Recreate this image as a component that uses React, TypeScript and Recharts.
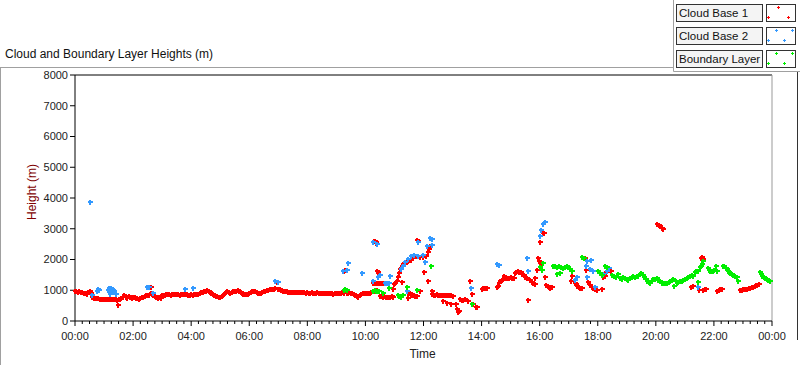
import React from 'react';
import { ScatterChart, Scatter, XAxis, YAxis, ReferenceLine, Legend } from 'recharts';

type Pt = [number, number];

// [hour of day, height m]
const cloudBase1Morning: Pt[] = [
  [0.0, 960], [0.05, 975], [0.1, 950], [0.15, 965], [0.2, 940], [0.25, 955], [0.3, 920], [0.35, 900], [0.4, 870], [0.45, 930],
  [0.5, 990], [0.55, 900], [0.6, 780], [0.65, 760], [0.7, 750], [0.75, 745], [0.8, 740], [0.85, 730], [0.9, 725], [0.95, 720],
  [1.0, 715], [1.05, 710], [1.1, 712], [1.15, 705], [1.2, 708], [1.25, 702], [1.3, 700], [1.35, 705], [1.4, 700], [1.45, 690],
  [1.47, 510], [1.5, 700], [1.55, 720], [1.6, 740], [1.65, 780], [1.7, 830], [1.75, 790], [1.8, 760], [1.85, 800], [1.9, 780],
  [1.95, 760], [2.0, 790], [2.05, 770], [2.1, 740], [2.15, 760], [2.2, 730], [2.25, 760], [2.3, 770], [2.35, 790], [2.4, 800],
  [2.45, 830], [2.5, 840], [2.55, 860], [2.6, 900], [2.62, 1100], [2.65, 880], [2.7, 850], [2.75, 820], [2.8, 790], [2.85, 760],
  [2.9, 780], [2.95, 750], [3.0, 830], [3.05, 860], [3.1, 850], [3.15, 880], [3.2, 870], [3.25, 890], [3.3, 860], [3.35, 870],
  [3.4, 880], [3.45, 870], [3.5, 870], [3.55, 880], [3.6, 860], [3.65, 870], [3.7, 875], [3.75, 880], [3.8, 865], [3.85, 870],
  [3.9, 860], [3.95, 855], [4.0, 870], [4.05, 860], [4.1, 880], [4.15, 870], [4.2, 885], [4.25, 880], [4.3, 900], [4.35, 930],
  [4.4, 950], [4.45, 980], [4.5, 990], [4.55, 1010], [4.6, 980], [4.65, 950], [4.7, 920], [4.75, 880], [4.8, 850], [4.85, 820],
  [4.9, 800], [4.95, 780], [5.0, 790], [5.05, 820], [5.1, 860], [5.15, 900], [5.2, 940], [5.25, 960], [5.3, 930], [5.35, 920],
  [5.4, 950], [5.45, 970], [5.5, 980], [5.55, 990], [5.6, 1010], [5.65, 990], [5.7, 950], [5.75, 920], [5.8, 890], [5.85, 880],
  [5.9, 870], [5.95, 880], [6.0, 900], [6.05, 930], [6.1, 960], [6.15, 980], [6.2, 960], [6.25, 930], [6.3, 910], [6.35, 900],
  [6.4, 910], [6.45, 930], [6.5, 960], [6.55, 990], [6.6, 1000], [6.65, 1010], [6.7, 1030], [6.75, 1040], [6.8, 1050], [6.85, 1055],
  [6.9, 1060], [6.95, 1270], [7.0, 1055], [7.05, 1040], [7.1, 1010], [7.15, 990], [7.2, 980], [7.25, 970], [7.3, 960], [7.35, 955],
  [7.4, 950], [7.45, 955], [7.5, 950], [7.55, 945], [7.6, 950], [7.65, 955], [7.7, 950], [7.75, 945], [7.8, 950], [7.85, 940],
  [7.9, 930], [7.95, 925], [8.0, 930], [8.05, 920], [8.1, 925], [8.15, 930], [8.2, 920], [8.25, 915], [8.3, 925], [8.35, 930],
  [8.4, 920], [8.45, 910], [8.5, 920], [8.55, 925], [8.6, 915], [8.65, 910], [8.7, 920], [8.75, 905], [8.8, 895], [8.85, 900],
  [8.9, 890], [8.95, 910], [9.0, 920], [9.05, 925], [9.1, 915], [9.15, 920], [9.2, 930], [9.25, 925], [9.26, 1640], [9.3, 1660],
  [9.35, 925], [9.4, 915], [9.45, 930], [9.5, 920], [9.55, 900], [9.6, 880], [9.65, 840], [9.7, 800], [9.75, 790], [9.8, 830],
  [9.85, 880], [9.9, 900], [9.95, 910], [10.0, 920], [10.05, 915], [10.1, 920], [10.15, 925], [10.2, 940],
];

const cloudBase1Midday: Pt[] = [
  [10.25, 960], [10.3, 980], [10.35, 990], [10.4, 1000], [10.45, 990],
  [10.28, 2610], [10.32, 2590], [10.35, 2560], [10.38, 2530], [10.4, 1640], [10.44, 1600],
  [10.25, 1230], [10.3, 1240], [10.35, 1235], [10.4, 1240], [10.45, 1245], [10.5, 1240], [10.55, 1235], [10.6, 1240], [10.65, 1245],
  [10.5, 820], [10.55, 800], [10.6, 790], [10.65, 800], [10.7, 790], [10.75, 780], [10.8, 790], [10.85, 780], [10.9, 800], [10.95, 780],
  [10.96, 1035], [10.98, 1200], [11.03, 1250], [11.08, 1307], [11.13, 1415], [11.16, 1560], [11.19, 1700], [11.25, 1800], [11.3, 1850],
  [11.36, 1905], [11.42, 1930], [11.48, 1960], [11.56, 2000], [11.65, 2050], [11.72, 2100], [11.77, 2125], [11.88, 2090], [11.99, 2070],
  [12.09, 2125], [12.17, 2230], [12.2, 2350], [12.22, 2450],
  [11.25, 1260], [11.77, 2640], [11.8, 2610], [12.02, 1580], [12.16, 1310],
  [11.47, 920], [11.52, 900], [11.57, 880], [11.62, 850], [11.67, 830], [11.72, 820], [11.77, 815], [11.47, 750], [11.88, 960],
  [12.28, 960], [12.28, 880], [12.32, 870], [12.36, 860], [12.4, 860], [12.45, 865], [12.5, 860], [12.55, 855], [12.6, 860],
  [12.65, 860], [12.7, 855], [12.75, 850], [12.8, 860], [12.85, 855], [12.9, 850], [12.95, 830], [13.0, 820],
  [12.67, 650], [12.82, 600], [12.95, 565], [13.12, 545], [13.17, 390], [13.2, 300], [13.22, 340],
  [13.27, 700], [13.32, 690], [13.37, 690], [13.42, 700], [13.6, 1310], [13.66, 890], [13.53, 650], [13.7, 545], [13.8, 460], [13.85, 460],
  [14.0, 1040], [14.05, 1060], [14.1, 1070], [14.15, 1065], [14.2, 1075],
];

const cloudBase1Afternoon: Pt[] = [
  [14.52, 1090], [14.55, 1145], [14.6, 1220], [14.65, 1285], [14.7, 1330], [14.75, 1370], [14.8, 1390], [14.85, 1400], [14.9, 1410],
  [14.95, 1400], [15.0, 1420], [15.05, 1410], [15.1, 1400], [14.78, 1470], [15.15, 1560], [15.2, 1600], [15.25, 1610], [15.3, 1600],
  [15.35, 1590], [15.4, 1540], [15.45, 1480], [15.5, 1420], [15.55, 1390], [15.61, 675], [15.68, 1330], [15.73, 1280], [15.78, 1240],
  [15.84, 1200], [15.84, 1395], [15.9, 1665], [15.93, 2040], [15.98, 1940], [16.03, 1850], [16.01, 2580], [16.1, 2865], [16.15, 2865],
  [16.18, 1440], [16.22, 1170], [16.27, 1130], [16.32, 1090], [16.37, 1070], [16.42, 1100],
  [17.08, 1285], [17.11, 1450], [17.2, 1240], [17.25, 1200], [17.3, 1150], [17.35, 1100], [17.4, 1080], [17.45, 1060],
  [17.56, 2050], [17.6, 1655], [17.68, 1275], [17.74, 1160], [17.8, 1100], [17.85, 1060], [17.9, 1030], [17.96, 1010],
  [18.14, 1035], [18.18, 1440], [18.25, 1470], [18.28, 1600], [18.38, 1660], [18.44, 1640],
  [20.05, 3160], [20.1, 3120], [20.15, 3080], [20.2, 3030], [20.25, 3000],
  [21.22, 1120], [21.27, 1125], [21.49, 1000], [21.56, 2050], [21.6, 2080], [21.62, 2010], [21.63, 1010], [21.68, 1030], [21.73, 1040],
  [22.12, 980], [22.17, 1000], [22.22, 1030], [22.27, 1045],
  [22.9, 1010], [22.95, 1020], [23.0, 1030], [23.05, 1030], [23.1, 1040], [23.15, 1050], [23.2, 1060], [23.25, 1070], [23.3, 1100],
  [23.35, 1120], [23.4, 1130], [23.45, 1160], [23.5, 1180], [23.55, 1200],
];

const cloudBase2: Pt[] = [
  [0.52, 3880], [0.6, 850], [0.75, 980], [0.78, 1040], [0.82, 1000],
  [1.15, 1010], [1.18, 1060], [1.22, 1060], [1.25, 1080], [1.28, 1050], [1.3, 1010], [1.33, 960], [1.36, 940], [1.4, 880], [1.2, 930], [1.22, 890],
  [2.49, 1100], [2.55, 1090], [2.67, 925], [3.79, 1035], [4.05, 1070], [4.08, 1080],
  [6.89, 1305], [6.98, 1275], [9.24, 1635], [9.36, 1665], [9.41, 1885], [9.87, 1560],
  [10.25, 2560], [10.39, 2500], [10.25, 1307], [10.45, 1440], [10.5, 1500],
  [10.67, 1230], [10.72, 1235], [10.77, 1230], [10.82, 1230], [10.85, 1470], [11.42, 980],
  [11.23, 1690], [11.3, 1800], [11.38, 1910], [11.48, 2020], [11.58, 2100], [11.67, 2150],
  [11.8, 2560], [11.82, 2125], [11.97, 2155], [12.05, 1905], [12.11, 2450], [12.22, 2700], [12.28, 2670], [12.28, 2480],
  [13.64, 1070], [14.52, 1850], [14.6, 1820], [15.55, 2050], [15.61, 1610],
  [16.01, 2780], [16.05, 2960], [16.13, 3160], [16.2, 3235],
  [17.22, 1330], [17.27, 1440], [17.6, 1775], [17.72, 1690], [17.83, 1610], [17.62, 1960], [17.76, 1985], [17.63, 1415], [17.9, 1120],
  [18.19, 1525], [18.31, 1635], [18.4, 1720], [21.46, 1100],
];

const boundaryLayer: Pt[] = [
  [9.25, 1010], [9.3, 1040], [9.35, 1000],
  [10.27, 990], [10.32, 1000], [10.37, 980], [10.42, 970], [10.47, 990], [10.62, 925], [10.82, 1070],
  [11.13, 850], [11.17, 820], [11.2, 800], [11.24, 790], [11.28, 830], [11.42, 1090], [11.77, 1015], [12.26, 1775], [13.66, 565],
  [16.01, 1765], [16.13, 1875], [16.07, 1655],
  [16.47, 1790], [16.53, 1780], [16.6, 1770], [16.66, 1800], [16.72, 1750], [16.8, 1720], [16.86, 1740], [16.93, 1780], [16.98, 1750],
  [17.05, 1700], [17.12, 1640], [16.59, 1525], [16.7, 1545],
  [17.45, 2070], [17.53, 2040], [18.02, 1635], [18.08, 1560], [18.14, 1490], [18.25, 1800], [18.33, 1765],
  [18.48, 1500], [18.55, 1460], [18.63, 1420], [18.71, 1525], [18.77, 1395], [18.82, 1360], [18.88, 1420], [18.94, 1395],
  [19.0, 1370], [19.05, 1330], [19.11, 1390], [19.17, 1440], [19.22, 1460], [19.28, 1415], [19.34, 1450], [19.4, 1470],
  [19.45, 1520], [19.49, 1545], [19.55, 1480], [19.6, 1440], [19.65, 1380], [19.69, 1307], [19.75, 1280], [19.8, 1250],
  [19.86, 1300], [19.91, 1360], [19.97, 1380], [20.03, 1395], [20.08, 1340], [20.14, 1285], [20.2, 1250], [20.26, 1220],
  [20.32, 1240], [20.38, 1250], [20.44, 1270], [20.49, 1285], [20.55, 1330], [20.6, 1360], [20.64, 1145], [20.68, 1300],
  [20.72, 1250], [20.78, 1270], [20.83, 1285], [20.89, 1310], [20.95, 1330], [21.0, 1360], [21.06, 1395], [21.12, 1440],
  [21.18, 1470], [21.24, 1480], [21.29, 1470], [21.35, 1600], [21.4, 1610], [21.44, 1635], [21.44, 1275], [21.52, 1740],
  [21.56, 1800], [21.6, 1850], [21.64, 1960], [21.79, 1720], [21.83, 1650], [21.87, 1635], [21.92, 1640], [21.98, 1635],
  [22.02, 1650], [22.06, 1800], [22.1, 1635], [22.32, 1800], [22.36, 1780], [22.41, 1720], [22.44, 1700], [22.48, 1635],
  [22.52, 1590], [22.56, 1545], [22.62, 1520], [22.67, 1500], [22.73, 1470], [22.79, 1440], [22.84, 1307],
  [23.59, 1600], [23.63, 1530], [23.67, 1470], [23.72, 1430], [23.76, 1395], [23.82, 1360], [23.87, 1330], [23.93, 1285],
];

const seriesNames = ['Cloud Base 1', 'Cloud Base 2', 'Boundary Layer'];
const heightTicks = [0, 1000, 2000, 3000, 4000, 5000, 6000, 7000, 8000];
const timeLabels = ['00:00', '02:00', '04:00', '06:00', '08:00', '10:00', '12:00', '14:00', '16:00', '18:00', '20:00', '22:00', '00:00'];
const timeTicks = Array.from({ length: 97 }, (_, i) => i / 4);

const RED = '#ff0000';
const BLUE = '#3399ff';
const GREEN = '#00ee00';
const FONT = '"Liberation Sans", Arial, sans-serif';

const toRows = (pts: Pt[]) => pts.map(([t, h]) => ({ t, h }));

const plus = (color: string) => (props: any) => {
  const cx = Math.round(props.cx);
  const cy = Math.round(props.cy);
  return (
    <g fill={color} shapeRendering="crispEdges">
      <rect x={cx - 2} y={cy - 1} width={5} height={2} />
      <rect x={cx - 1} y={cy - 2} width={2} height={5} />
    </g>
  );
};

const TimeTick = (props: any) => {
  const { x, y, payload } = props;
  const v = payload.value;
  const major = v % 2 === 0;
  return (
    <g>
      <line x1={x} x2={x} y1={y} y2={y + (major ? 5 : 3)} stroke="#000" />
      {major && (
        <text x={x} y={y + 19} textAnchor="middle" fontSize={11} fill="#222" fontFamily={FONT}>
          {timeLabels[v / 2]}
        </text>
      )}
    </g>
  );
};

const legendMarks = [
  [[12, 3], [2, 13], [22, 13]],
  [[10, 3], [26, 3], [2, 13], [18, 13]],
  [[10, 3], [26, 3], [2, 13], [18, 13]],
];

const LegendBox = ({ payload }: any) => {
  const entries = seriesNames.map((n) => (payload || []).find((e: any) => e.value === n)).filter(Boolean);
  return (
    <svg width={127} height={72} style={{ display: 'block' }}>
      <path d="M0.5,0 V71.5 H127" stroke="#a0a0a0" fill="none" />
      {entries.map((entry: any, i: number) => {
        const top = 4 + i * 23;
        return (
          <g key={entry.value} shapeRendering="crispEdges">
            <rect x={3.5} y={top + 0.5} width={86} height={17} fill="#f4f4f4" stroke="#333" />
            <text x={6} y={top + 13} fontSize={11.5} fill="#111" fontFamily={FONT}>{entry.value}</text>
            <rect x={93.5} y={top + 0.5} width={29} height={17} fill="#fff" stroke="#333" />
            {legendMarks[i].map(([dx, dy], k) => (
              <g key={k} fill={entry.color}>
                <rect x={93 + dx - 1} y={top + dy} width={3} height={1} />
                <rect x={93 + dx} y={top + dy - 1} width={1} height={3} />
              </g>
            ))}
          </g>
        );
      })}
    </svg>
  );
};

export default function App() {
  return (
    <div style={{ position: 'absolute', left: 0, top: 0, width: 800, height: 365, background: '#fff', fontFamily: FONT }}>
      <svg width={800} height={365} style={{ position: 'absolute', left: 0, top: 0 }}>
        <text x={5} y={58} fontSize={12} fill="#111" fontFamily={FONT}>Cloud and Boundary Layer Heights (m)</text>
        <path d="M0,67.5 H673 M0.5,67 V365" stroke="#a0a0a0" fill="none" />
        <path d="M797.5,72 V340" stroke="#333" fill="none" />
      </svg>
      <ScatterChart width={800} height={365} margin={{ top: 75, right: 28, bottom: 0, left: 15 }}>
        <XAxis
          type="number"
          dataKey="t"
          domain={[0, 24]}
          ticks={timeTicks}
          interval={0}
          height={44}
          tickSize={0}
          tickMargin={0}
          tickLine={false}
          tick={<TimeTick />}
          axisLine={{ stroke: '#000' }}
          label={(p: any) => {
            const vb = p.viewBox;
            return (
              <text x={vb.x + vb.width / 2 - 1} y={vb.y + 37} textAnchor="middle" fontSize={12} fill="#222" fontFamily={FONT}>Time</text>
            );
          }}
        />
        <YAxis
          type="number"
          dataKey="h"
          domain={[0, 8000]}
          ticks={heightTicks}
          interval={0}
          width={60}
          tickSize={5}
          tickMargin={2}
          tick={{ fontSize: 11, fill: '#222', fontFamily: FONT }}
          tickLine={{ stroke: '#000' }}
          axisLine={{ stroke: '#000' }}
          label={(p: any) => {
            const vb = p.viewBox;
            const cx = vb.x + 17;
            const cy = vb.y + vb.height / 2 - 6;
            return (
              <text x={cx} y={cy} transform={`rotate(-90 ${cx} ${cy})`} textAnchor="middle" dominantBaseline="central" fontSize={12} fill="#800000" fontFamily={FONT}>Height (m)</text>
            );
          }}
        />
        <ReferenceLine y={8000} stroke="#000" />
        <ReferenceLine x={24} stroke="#999" />
        <Legend
          layout="vertical"
          align="center"
          verticalAlign="middle"
          wrapperStyle={{ left: 673, top: 0, width: 127, height: 72 }}
          content={LegendBox}
        />
        <Scatter name="Cloud Base 1" data={toRows([...cloudBase1Morning, ...cloudBase1Midday, ...cloudBase1Afternoon])} fill={RED} shape={plus(RED)} isAnimationActive={false} />
        <Scatter name="Cloud Base 2" data={toRows(cloudBase2)} fill={BLUE} shape={plus(BLUE)} isAnimationActive={false} />
        <Scatter name="Boundary Layer" data={toRows(boundaryLayer)} fill={GREEN} shape={plus(GREEN)} isAnimationActive={false} />
      </ScatterChart>
    </div>
  );
}
